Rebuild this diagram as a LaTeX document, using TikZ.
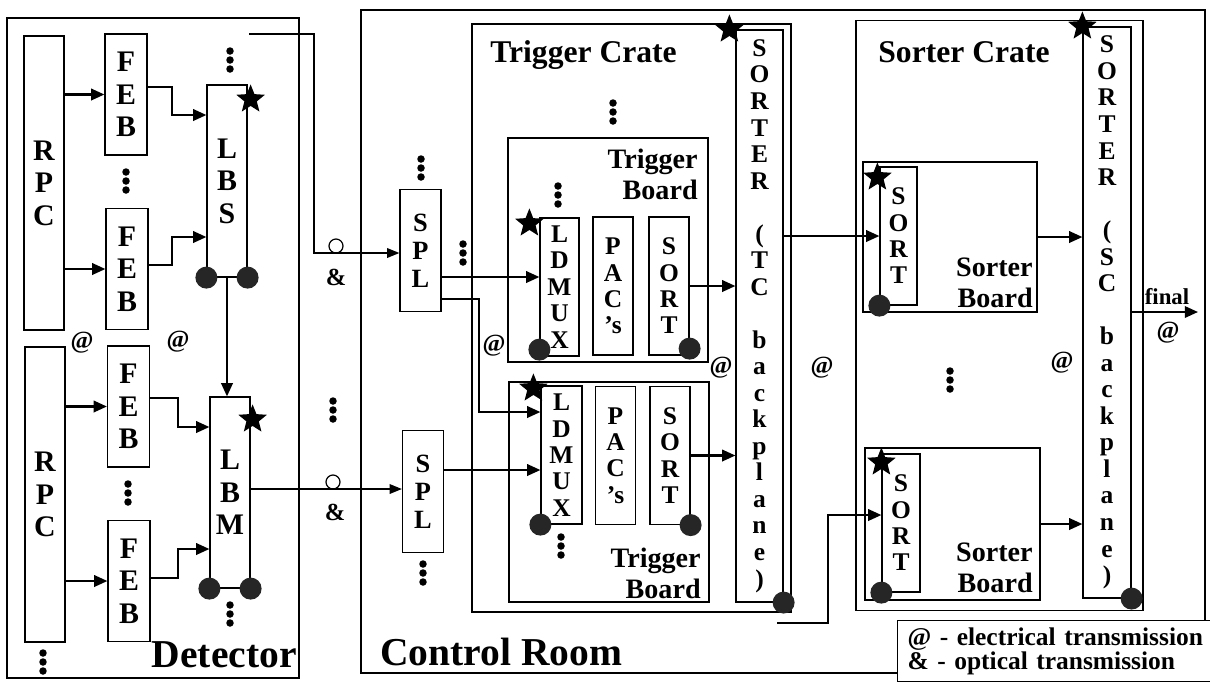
\documentclass[tikz,border=0pt]{standalone}
\usepackage{fontspec}
\setmainfont{Liberation Serif}
\usetikzlibrary{shapes,arrows.meta,positioning,calc}

\begin{document}
\begin{tikzpicture}[
    x=0.02cm, y=-0.02cm,
    every node/.style={inner sep=0pt},
    outline/.style={rectangle, draw, line width=0.7pt},
    detbox/.style={rectangle, draw, line width=0.7pt, align=center, minimum width=0.8cm, font=\fontsize{17}{18.5}\selectfont\bfseries},
    boardbox/.style={rectangle, draw, line width=0.7pt, align=center, minimum width=0.8cm, minimum height=2.76cm, font=\fontsize{14.5}{15}\selectfont\bfseries},
    sorterbox/.style={rectangle, draw, line width=0.7pt, align=center, minimum width=0.95cm, font=\fontsize{14.5}{15.1}\selectfont\bfseries},
    roomname/.style={font=\fontsize{22.5}{24}\selectfont\bfseries},
    cratename/.style={font=\fontsize{18}{20}\selectfont\bfseries},
    boardname/.style={align=right, font=\fontsize{16}{17.5}\selectfont\bfseries},
    linkmark/.style={font=\fontsize{14}{14}\selectfont\bfseries},
    led/.style={circle, fill=black!85, minimum size=0.44cm},
    token/.style={star, star points=5, star point ratio=2.3, fill=black, minimum size=0.6cm},
    ring/.style={circle, draw, line width=0.7pt, minimum size=0.28cm},
    arrow/.style={-{Triangle[length=7.5pt,width=6.5pt]}, line width=1.2pt},
    fibre/.style={-{Triangle[length=7pt,width=5.5pt]}, line width=0.8pt},
    pics/vdot/.style={code={\fill (0,-9) circle (0.075cm) (0,0) circle (0.075cm) (0,9) circle (0.075cm);}}
]
\useasboundingbox (0,0) rectangle (1210,681);

% Frames
\node[outline, minimum width=5.84cm, minimum height=13.2cm] (det) at (153,348) {};
\node[outline, minimum width=16.88cm, minimum height=13.26cm] (ctrl) at (783,341.5) {};
\node[outline, minimum width=6.38cm, minimum height=11.76cm] (tcrate) at (631.5,318) {};
\node[outline, minimum width=5.74cm, minimum height=11.8cm] (scrate) at (999.5,315.5) {};
\node[outline, minimum width=4cm, minimum height=4.48cm] (tb1) at (608,250) {};
\node[outline, minimum width=4cm, minimum height=4.4cm] (tb2) at (609,492) {};
\node[outline, minimum width=3.48cm, minimum height=3cm] (sb1) at (950,237) {};
\node[outline, minimum width=3.5cm, minimum height=3.04cm] (sb2) at (952.5,524) {};

% Detector
\node[detbox, minimum height=5.88cm] (rpc1) at (44,183) {R\\P\\C};
\node[detbox, minimum height=5.9cm] (rpc2) at (45,494.5) {R\\P\\C};
\node[detbox, minimum width=0.84cm, minimum height=2.42cm] (feb1) at (126,94.5) {F\\E\\B};
\node[detbox, minimum width=0.84cm, minimum height=2.42cm] (feb2) at (127,269) {F\\E\\B};
\node[detbox, minimum width=0.84cm, minimum height=2.42cm] (feb3) at (128.5,406.5) {F\\E\\B};
\node[detbox, minimum width=0.84cm, minimum height=2.42cm] (feb4) at (129,581) {F\\E\\B};
\node[detbox, minimum height=3.84cm] (lbs) at (227,181) {L\\B\\S};
\node[detbox, minimum height=3.82cm] (lbm) at (230,492.5) {L\\B\\M};

% Splitters
\node[boardbox, minimum width=0.82cm, minimum height=2.44cm, font=\fontsize{15}{16}\selectfont\bfseries] (spl1) at (420.5,250.5) {S\\P\\L};
\node[boardbox, minimum width=0.82cm, minimum height=2.44cm, font=\fontsize{15}{16}\selectfont\bfseries] (spl2) at (423,491.5) {S\\P\\L};

% Trigger boards
\node[boardbox, minimum width=0.78cm] (ldmux1) at (559.5,287) {L\\D\\M\\U\\X};
\node[boardbox] (pacs1) at (613,286) {P\\A\\C\\'s};
\node[boardbox] (sort1) at (669,286) {S\\O\\R\\T};
\node[boardbox, minimum width=0.82cm] (ldmux2) at (561.5,455) {L\\D\\M\\U\\X};
\node[boardbox] (pacs2) at (615.5,455.5) {P\\A\\C\\'s};
\node[boardbox] (sort2) at (670,455.5) {S\\O\\R\\T};

% Backplane sorters
\node[sorterbox, minimum width=0.94cm, minimum height=11.44cm] (tcsorter) at (759.5,316) {S\\O\\R\\T\\E\\R\\[15.1pt](\\T\\C\\[15.1pt]b\\a\\c\\k\\p\\l\\a\\n\\e\\)};
\node[sorterbox, minimum width=0.96cm, minimum height=11.42cm] (scsorter) at (1107,312.5) {S\\O\\R\\T\\E\\R\\[15.1pt](\\S\\C\\[15.1pt]b\\a\\c\\k\\p\\l\\a\\n\\e\\)};

% Sorter boards
\node[boardbox, minimum width=0.74cm] (ssort1) at (898.5,236) {S\\O\\R\\T};
\node[boardbox, minimum width=0.76cm] (ssort2) at (901,523) {S\\O\\R\\T};

% Labels
\node[roomname, anchor=base east] (detlabel) at (297,667) {Detector};
\node[roomname, anchor=base west] (ctrllabel) at (380,665) {Control Room};
\node[cratename, anchor=base west] (tclabel) at (490,62) {Trigger Crate};
\node[cratename, anchor=base west] (sclabel) at (878,62) {Sorter Crate};
\node[boardname, anchor=north east] (tb1label) at (698,149) {Trigger\\Board};
\node[boardname, anchor=south east] (tb2label) at (701,599) {Trigger\\Board};
\node[boardname, anchor=south east] (sb1label) at (1033,308) {Sorter\\Board};
\node[boardname, anchor=south east] (sb2label) at (1033,593) {Sorter\\Board};

% Detector links
\draw[arrow] (rpc1.east |- feb1.west) -- (feb1.west);
\draw[arrow] (rpc1.east |- feb2.west) -- (feb2.west);
\draw[arrow] (rpc2.east |- feb3.west) -- (feb3.west);
\draw[arrow] (rpc2.east |- feb4.west) -- (feb4.west);
\draw[arrow] ([yshift=0.15cm]feb1.east) -| (172,115) -- (lbs.west |- 172,115);
\draw[arrow] ([yshift=0.08cm]feb2.east) -| (172,237) -- (lbs.west |- 172,237);
\draw[arrow] ([yshift=0.17cm]feb3.east) -| (178,427) -- (lbm.west |- 178,427);
\draw[arrow] ([yshift=0.06cm]feb4.east) -| (178,549) -- (lbm.west |- 178,549);
\draw[arrow] (lbs.south) -- (lbs.south |- lbm.north);

% Optical links
\coordinate (lbsout) at (249,34);
\draw[fibre] (lbsout) -| (314,253) -- (spl1.west |- 314,253);
\draw[fibre] (lbm.east |- 0,489) -- (spl2.west |- 0,489);
\node[ring] (ring1) at (336,246) {};
\node[ring] (ring2) at (333,482) {};

% Trigger crate links
\draw[arrow] (spl1.east |- 0,277) -- (ldmux1.west |- 0,277);
\draw[arrow] (spl1.east |- 0,299) -| (479,412) -- (ldmux2.west |- 0,412);
\draw[arrow] (spl2.east |- 0,470) -- (ldmux2.west |- 0,470);
\draw[arrow] (sort1.east) -- (sort1.east -| tcsorter.west);
\draw[arrow] (sort2.east) -- (sort2.east -| tcsorter.west);

% Sorter crate links
\draw[arrow] (tcsorter.east |- ssort1.west) -- (ssort1.west);
\coordinate (tcin) at (777,623);
\draw[arrow] (tcin) -| (828,515) -- (ssort2.west |- 828,515);
\draw[arrow] (sb1.east) -- (sb1.east -| scsorter.west);
\draw[arrow] (sb2.east) -- (sb2.east -| scsorter.west);
\coordinate (finalout) at (1198,312);
\draw[arrow] (scsorter.east |- finalout) -- (finalout);

% Connectors on the boards
\node[led] (l1) at (lbs.south west) {};
\node[led] (l2) at (lbs.south east) {};
\node[led] (l3) at (lbm.south west) {};
\node[led] (l4) at (lbm.south east) {};
\node[led] (l5) at ([yshift=0.14cm]ldmux1.south west) {};
\node[led] (l6) at ([yshift=0.14cm]sort1.south east) {};
\node[led] (l7) at (ldmux2.south west) {};
\node[led] (l8) at (sort2.south east) {};
\node[led] (l9) at (tcsorter.south east) {};
\node[led] (l10) at (scsorter.south east) {};
\node[led] (l11) at (ssort1.south west) {};
\node[led] (l12) at (ssort2.south west) {};

\node[token] (t1) at ([xshift=0.06cm,yshift=-0.3cm]lbs.north east) {};
\node[token] (t2) at ([xshift=0.04cm,yshift=-0.46cm]lbm.north east) {};
\node[token] (t3) at ([xshift=-0.2cm,yshift=-0.12cm]ldmux1.north west) {};
\node[token] (t4) at ([xshift=-0.14cm,yshift=-0.06cm]ldmux2.north west) {};
\node[token] (t5) at ([xshift=-0.12cm]tcsorter.north west) {};
\node[token] (t6) at ([xshift=-0.04cm,yshift=-0.22cm]ssort1.north west) {};
\node[token] (t7) at ([yshift=-0.18cm]ssort2.north west) {};
\node[token] (t8) at (scsorter.north west) {};

% Continuation dots
\pic at (230,60) {vdot};
\pic at (230,614) {vdot};
\pic at (43,662) {vdot};
\pic at (126,181) {vdot};
\pic at (128,493) {vdot};
\pic at (333,410) {vdot};
\pic at (421,168) {vdot};
\pic at (463,253) {vdot};
\pic at (423,573) {vdot};
\pic at (613,112) {vdot};
\pic at (558,195) {vdot};
\pic at (561,546) {vdot};
\pic at (950,380) {vdot};

% Transmission marks
\node[linkmark] (e1) at (82,343) {@};
\node[linkmark] (e2) at (178,342) {@};
\node[linkmark] (e3) at (494,346) {@};
\node[linkmark] (e4) at (721,368) {@};
\node[linkmark] (e5) at (822,368) {@};
\node[linkmark] (e6) at (1062,363) {@};
\node[linkmark] (e7) at (1168,333) {@};
\node[linkmark] (o1) at (336,277) {\&};
\node[linkmark] (o2) at (335,512) {\&};
\node[linkmark, font=\fontsize{13}{13}\selectfont\bfseries] (finallabel) at (1167,297) {final};

% Legend
\node[draw, fill=white, line width=0.7pt, anchor=north west, align=left, text width=6cm, inner xsep=0.2cm, inner ysep=4pt, font=\fontsize{14.5}{13.5}\selectfont\bfseries] (legend) at (897,620) {@ - electrical transmission\\\& - optical transmission};

\end{tikzpicture}
\end{document}
